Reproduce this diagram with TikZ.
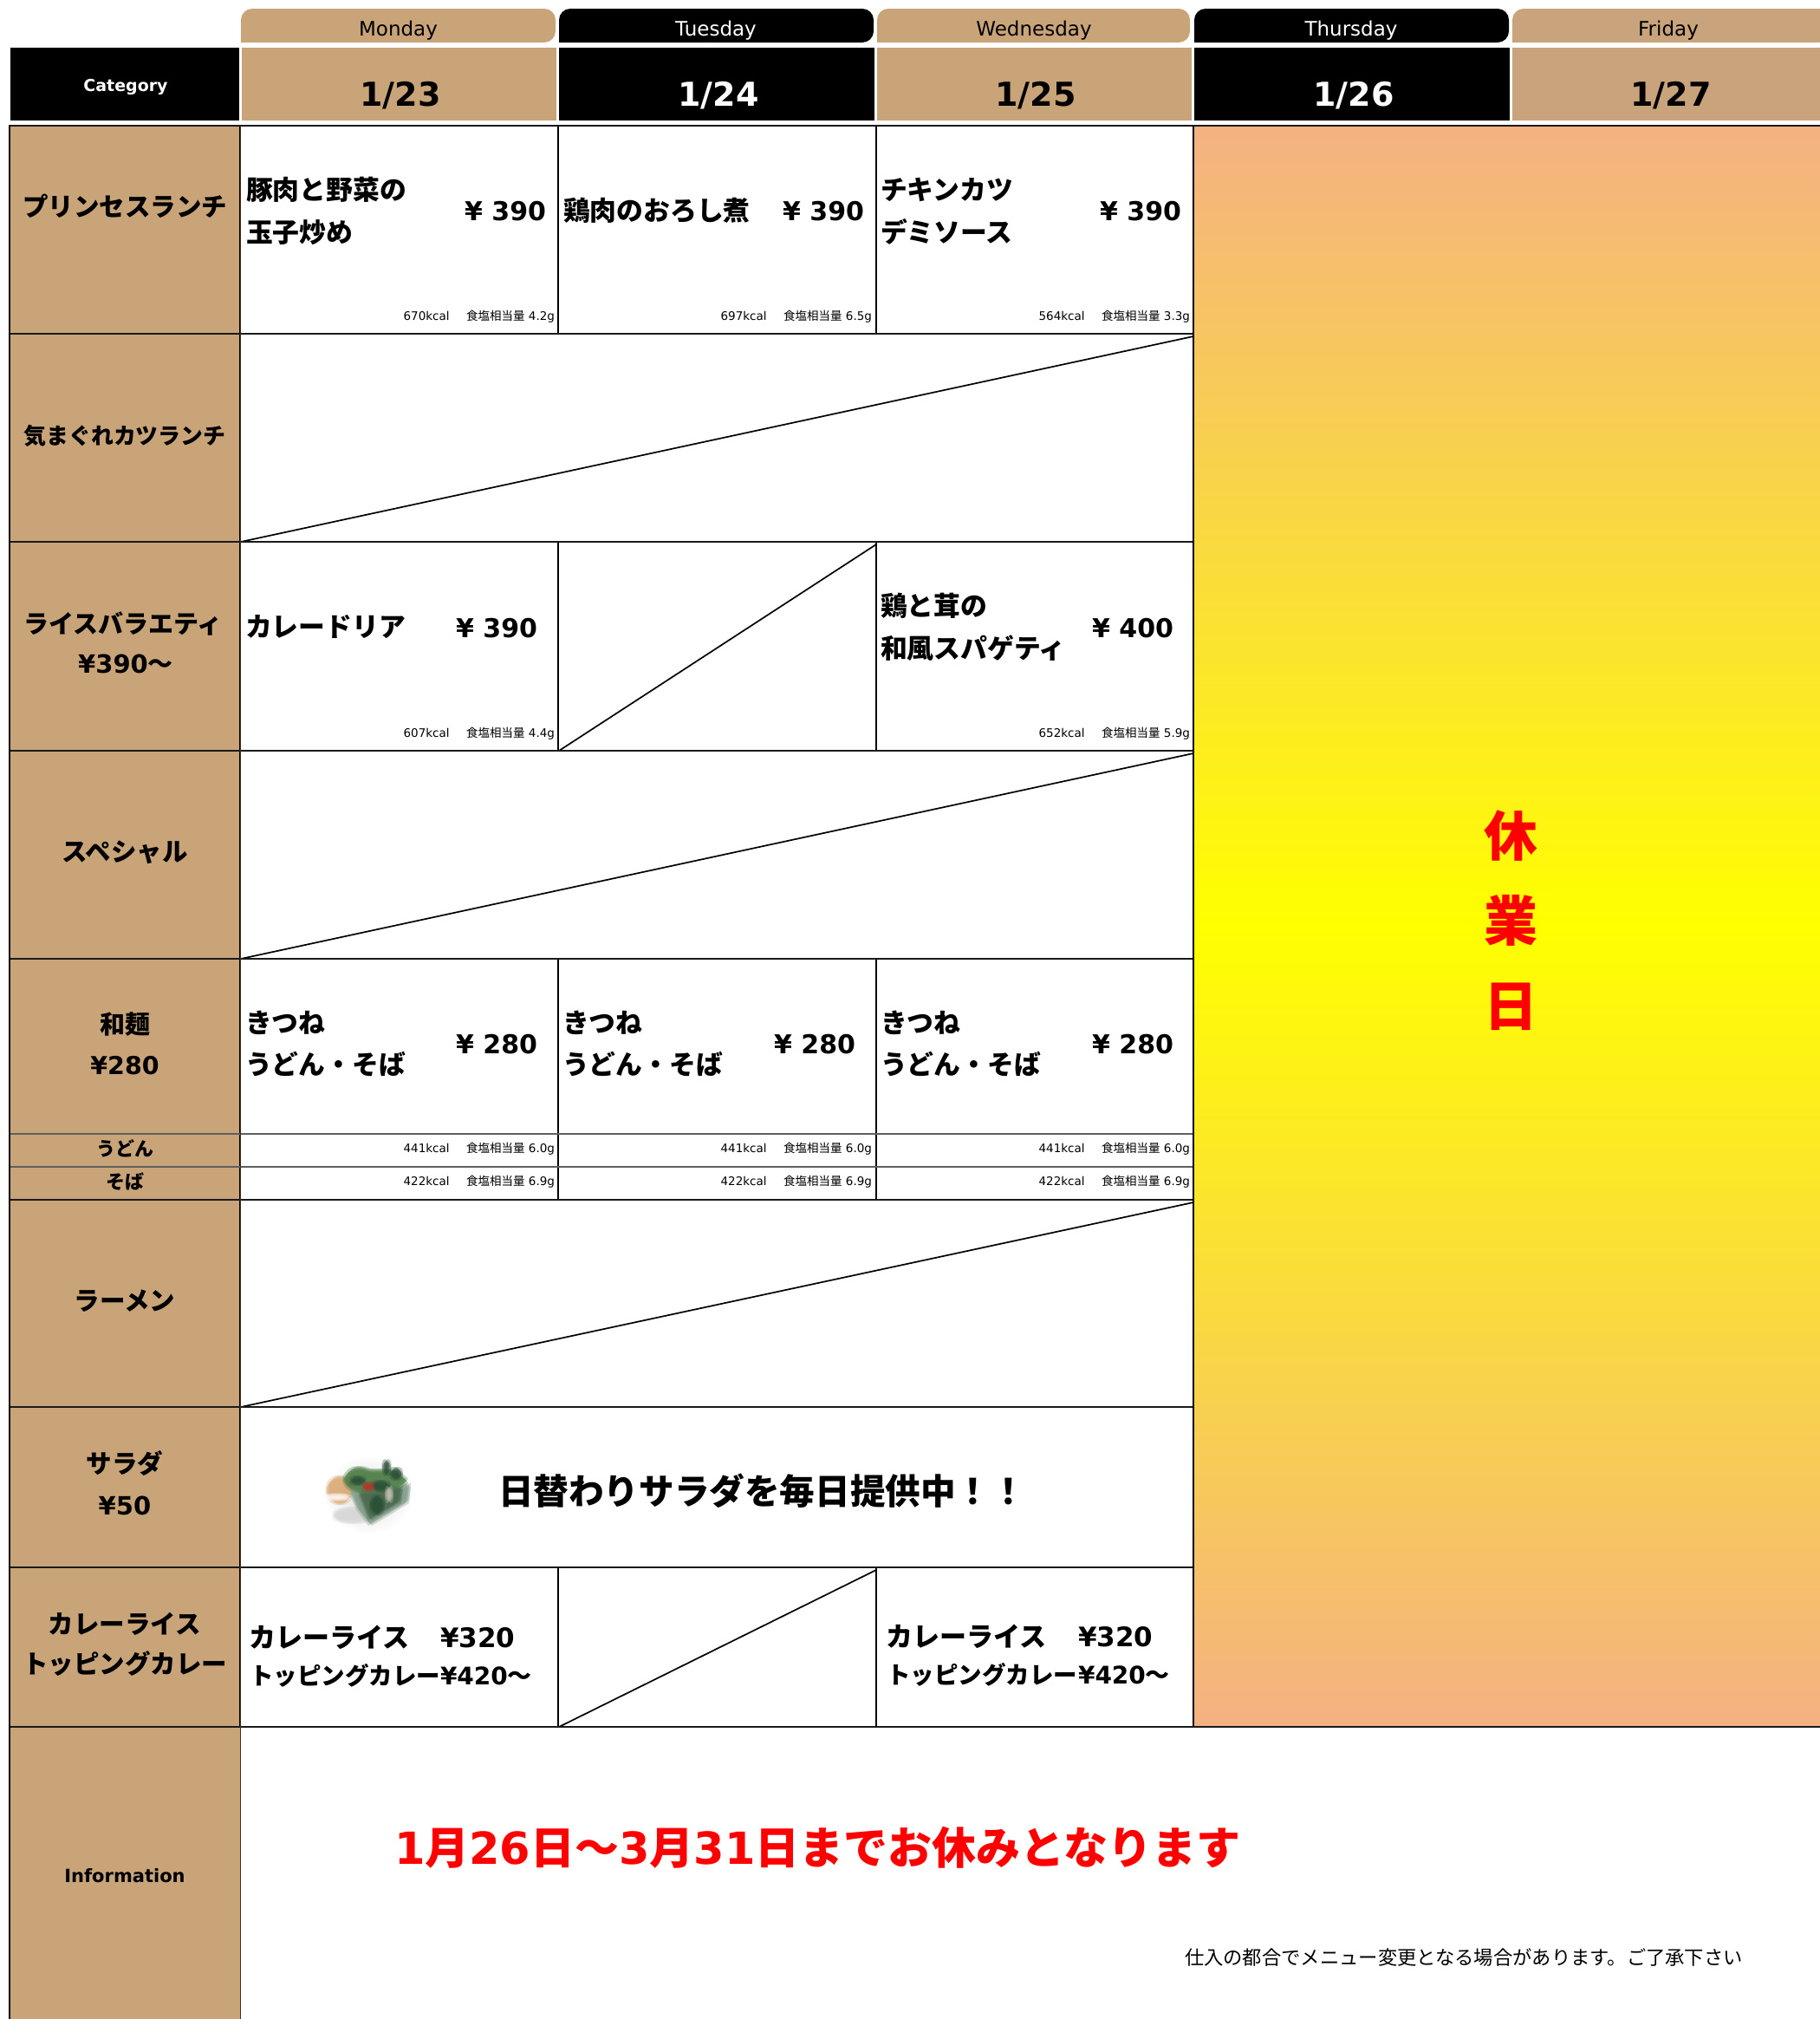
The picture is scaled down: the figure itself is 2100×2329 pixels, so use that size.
\documentclass[tikz,border=0pt]{standalone}
\usepackage{fontspec}
\setmainfont{DejaVu Sans}
\newfontfamily\jp{Noto Sans CJK JP}
\definecolor{tan}{HTML}{C9A479}
\definecolor{tanb}{HTML}{C8A37B}
\definecolor{gradend}{HTML}{F4B183}
\definecolor{rule}{HTML}{1A1A1A}
\definecolor{sbread}{HTML}{DCA873}
\definecolor{sbowl}{HTML}{7D9A86}
\definecolor{sdark}{HTML}{47694B}
\definecolor{sleaf}{HTML}{4A7A42}
\definecolor{sdeep}{HTML}{2A4F36}
\definecolor{stom}{HTML}{B8342A}
\definecolor{sgrey}{HTML}{C9C6B8}
\tikzset{
  cellbox/.style={draw=black,line width=1.2pt,fill=white,inner sep=0pt,outer sep=0pt,anchor=north west},
  labelbox/.style={fill=tan,draw=none,inner sep=0pt,outer sep=0pt,anchor=north west},
  headbox/.style={draw=none,inner sep=0pt,outer sep=0pt,anchor=north west},
  diag/.style={draw=black,line width=1.7pt},
  rowrule/.style={draw=rule,line width=2.6pt},
  subrule/.style={draw=rule!70!white,line width=2pt},
  lab/.style={inner sep=0pt,outer sep=0pt},
  daytab/.style={rounded corners=13pt}
}
% \bx[style]{name}{x1}{y1}{x2}{y2}
\newcommand{\bx}[6][]{\node[#1,minimum width={(#5-#3)*1pt},minimum height={(#6-#4)*1pt}] (#2) at (#3,#4) {};}
% \tx[opts]{name}{anchor}{x}{ycentre}{size}{text}
\newcommand{\tx}[7][]{\node[lab,#1,anchor=#3] (#2) at ({#4},{#5+0.8+0.36*#6}) {\fontsize{#6}{#6}\selectfont #7};}
\newcommand{\J}[1]{{\jp #1}}
\newcommand{\Kc}[2]{#1kcal\J{　}\hspace{6pt}\J{食塩相当量} #2}
% soft-edged shape
\newcommand{\soft}[2]{\foreach \dx/\dy in {-2/-2,2/-2,-2/2,2/2,0/0,0/0}{\fill[#1,opacity=.32,shift={(\dx,\dy)}] #2;}}
\begin{document}
\begin{tikzpicture}[x=1pt,y=-1pt]
\useasboundingbox (0,0) rectangle (2100,2329);
\fill[white] (0,0) rectangle (2100,2329);
% day tabs
\fill[tan,daytab] (278,49) -- (278,10) -- (641,10) -- (641,49) [sharp corners] -- cycle;
\fill[black,daytab] (645,49) -- (645,10) -- (1008,10) -- (1008,49) [sharp corners] -- cycle;
\fill[tan,daytab] (1012,49) -- (1012,10) -- (1373,10) -- (1373,49) [sharp corners] -- cycle;
\fill[black,daytab] (1378,49) -- (1378,10) -- (1741,10) -- (1741,49) [sharp corners] -- cycle;
\fill[tanb,daytab] (1745,49) -- (1745,10) -- (2112,10) -- (2112,49) [sharp corners] -- cycle;
\tx{dMon}{base}{459.5}{32}{23}{Monday}
\tx[text=white]{dTue}{base}{826}{32}{23}{Tuesday}
\tx{dWed}{base}{1193}{32}{23}{Wednesday}
\tx[text=white]{dThu}{base}{1559}{32}{23}{Thursday}
\tx{dFri}{base}{1925}{32}{23}{Friday}
% date header
\bx[headbox,fill=black]{hCat}{12}{55}{276}{139}
\bx[headbox,fill=tan]{hMon}{279}{55}{642}{139}
\bx[headbox,fill=black]{hTue}{645}{55}{1009}{139}
\bx[headbox,fill=tan]{hWed}{1012}{55}{1375}{139}
\bx[headbox,fill=black]{hThu}{1378}{55}{1742}{139}
\bx[headbox,fill=tanb]{hFri}{1745}{55}{2100}{139}
\tx[text=white,font=\bfseries]{tCat}{base}{145}{98}{19}{Category}
\tx[font=\bfseries]{t23}{base}{462}{108}{38}{1/23}
\tx[text=white,font=\bfseries]{t24}{base}{829}{108}{38}{1/24}
\tx[font=\bfseries]{t25}{base}{1195}{108}{38}{1/25}
\tx[text=white,font=\bfseries]{t26}{base}{1562}{108}{38}{1/26}
\tx[font=\bfseries]{t27}{base}{1928}{108}{38}{1/27}
% label column
\bx[labelbox]{l1}{11}{145}{277}{385}
\bx[labelbox]{l2}{11}{385}{277}{625}
\bx[labelbox]{l3}{11}{625}{277}{866}
\bx[labelbox]{l4}{11}{866}{277}{1106}
\bx[labelbox]{l5}{11}{1106}{277}{1308}
\bx[labelbox]{l5u}{11}{1308}{277}{1346}
\bx[labelbox]{l5s}{11}{1346}{277}{1384}
\bx[labelbox]{l6}{11}{1384}{277}{1623}
\bx[labelbox]{l7}{11}{1623}{277}{1808}
\bx[labelbox]{l8}{11}{1808}{277}{1992}
\bx[labelbox]{l9}{11}{1992}{277}{2329}
% body cells
\bx[cellbox]{c1m}{277}{145}{644}{385}
\bx[cellbox]{c1t}{644}{145}{1011}{385}
\bx[cellbox]{c1w}{1011}{145}{1377}{385}
\bx[cellbox]{c2}{277}{385}{1377}{625}
\bx[cellbox]{c3m}{277}{625}{644}{866}
\bx[cellbox]{c3t}{644}{625}{1011}{866}
\bx[cellbox]{c3w}{1011}{625}{1377}{866}
\bx[cellbox]{c4}{277}{866}{1377}{1106}
\bx[cellbox]{c5m}{277}{1106}{644}{1308}
\bx[cellbox]{c5t}{644}{1106}{1011}{1308}
\bx[cellbox]{c5w}{1011}{1106}{1377}{1308}
\bx[cellbox]{c5um}{277}{1308}{644}{1346}
\bx[cellbox]{c5ut}{644}{1308}{1011}{1346}
\bx[cellbox]{c5uw}{1011}{1308}{1377}{1346}
\bx[cellbox]{c5sm}{277}{1346}{644}{1384}
\bx[cellbox]{c5st}{644}{1346}{1011}{1384}
\bx[cellbox]{c5sw}{1011}{1346}{1377}{1384}
\bx[cellbox]{c6}{277}{1384}{1377}{1623}
\bx[cellbox]{c7}{277}{1623}{1377}{1808}
\bx[cellbox]{c8m}{277}{1808}{644}{1992}
\bx[cellbox]{c8t}{644}{1808}{1011}{1992}
\bx[cellbox]{c8w}{1011}{1808}{1377}{1992}
% closed column
\node[draw=none,inner sep=0pt,outer sep=0pt,anchor=north west,minimum width=723pt,minimum height=1847pt,
  top color=gradend,bottom color=gradend,middle color=yellow,shading angle=0] (closed) at (1377,145) {};
% diagonals
\draw[diag] ([xshift=1pt]c2.south west) -- ([yshift=-3pt]c2.north east);
\draw[diag] ([xshift=1pt]c3t.south west) -- ([yshift=-3pt]c3t.north east);
\draw[diag] ([xshift=1pt]c4.south west) -- ([yshift=-3pt]c4.north east);
\draw[diag] ([xshift=1pt]c6.south west) -- ([yshift=-3pt]c6.north east);
\draw[diag] ([xshift=1pt]c8t.south west) -- ([yshift=-3pt]c8t.north east);
% rules
\foreach \yy in {385,625,866,1106,1384,1623,1808} \draw[rowrule] (11,\yy) -- (1377,\yy);
\foreach \yy in {1308,1346} \draw[subrule] (11,\yy) -- (1377,\yy);
\draw[rowrule] (11,145) -- (2100,145);
\draw[rowrule] (11,1992) -- (2100,1992);
\draw[draw=black,line width=2pt] (11,144) -- (11,2329);
\draw[draw=black!70!tan,line width=1pt] (277,145) -- (277,2329);
\draw[draw=black,line width=1.8pt] (1377,145) -- (1377,1992);
% labels
\tx[font=\jp\bfseries]{a1}{base}{144}{238}{29.5}{プリンセスランチ}
\tx[font=\jp\bfseries]{a2}{base}{144}{502}{25.9}{気まぐれカツランチ}
\tx[font=\jp\bfseries]{a3}{base}{142}{719}{29}{ライスバラエティ}
\tx[font=\bfseries]{a3b}{base}{145}{765}{29}{¥390\J{〜}}
\tx[font=\jp\bfseries]{a4}{base}{144}{982}{29.5}{スペシャル}
\tx[font=\jp\bfseries]{a5}{base}{144}{1181}{29}{和麺}
\tx[font=\bfseries]{a5b}{base}{144}{1228}{28.5}{¥280}
\tx[font=\jp\bfseries]{a5u}{base}{144}{1325}{22}{うどん}
\tx[font=\jp\bfseries]{a5s}{base}{144}{1363}{22}{そば}
\tx[font=\jp\bfseries]{a6}{base}{144}{1500}{29.5}{ラーメン}
\tx[font=\jp\bfseries]{a7}{base}{144}{1688}{29.5}{サラダ}
\tx[font=\bfseries]{a7b}{base}{144}{1736}{29}{¥50}
\tx[font=\jp\bfseries]{a8}{base}{144}{1873}{29.5}{カレーライス}
\tx[font=\jp\bfseries]{a8b}{base}{144}{1919}{29.5}{トッピングカレー}
\tx[font=\bfseries]{a9}{base}{144}{2163}{21}{Information}
% row 1
\tx[font=\jp\bfseries]{m11}{base west}{284}{219}{30.8}{豚肉と野菜の}
\tx[font=\jp\bfseries]{m12}{base west}{284}{268}{30.8}{玉子炒め}
\tx[font=\bfseries]{p1m}{base east}{630}{243}{30}{¥ 390}
\tx{k1m}{base east}{640}{364}{13.5}{\Kc{670}{4.2g}}
\tx[font=\jp\bfseries]{m13}{base west}{650}{243}{30.8}{鶏肉のおろし煮}
\tx[font=\bfseries]{p1t}{base east}{997}{243}{30}{¥ 390}
\tx{k1t}{base east}{1006}{364}{13.5}{\Kc{697}{6.5g}}
\tx[font=\jp\bfseries]{m14}{base west}{1016}{219}{30.8}{チキンカツ}
\tx[font=\jp\bfseries]{m15}{base west}{1016}{268}{30.8}{デミソース}
\tx[font=\bfseries]{p1w}{base east}{1363}{243}{30}{¥ 390}
\tx{k1w}{base east}{1373}{364}{13.5}{\Kc{564}{3.3g}}
% row 3
\tx[font=\jp\bfseries]{m31}{base west}{283}{723}{30.8}{カレードリア}
\tx[font=\bfseries]{p3m}{base east}{620}{724}{30}{¥ 390}
\tx{k3m}{base east}{640}{845}{13.5}{\Kc{607}{4.4g}}
\tx[font=\jp\bfseries]{m32}{base west}{1016}{699}{30.8}{鶏と茸の}
\tx[font=\jp\bfseries]{m33}{base west}{1016}{748}{30.8}{和風スパゲティ}
\tx[font=\bfseries]{p3w}{base east}{1354}{724}{30}{¥ 400}
\tx{k3w}{base east}{1373}{845}{13.5}{\Kc{652}{5.9g}}
% row 5
\foreach \cx/\nm/\pr/\kr in {283/a/620/640,649/b/987/1006,1016/c/1354/1373}{
  \tx[font=\jp\bfseries]{w1\nm}{base west}{\cx}{1180}{30.8}{きつね}
  \tx[font=\jp\bfseries]{w2\nm}{base west}{\cx}{1228}{30.8}{うどん・そば}
  \tx[font=\bfseries]{wp\nm}{base east}{\pr}{1204}{30}{¥ 280}
  \tx{ku\nm}{base east}{\kr}{1324}{13.5}{\Kc{441}{6.0g}}
  \tx{ks\nm}{base east}{\kr}{1362}{13.5}{\Kc{422}{6.9g}}
}
% salad picture
\begin{scope}[shift={(425,1722)}]
  \shade[inner color=black!14,outer color=white] (0,2) ellipse (52 and 46);
  \soft{white}{(-54,-46) rectangle (-26,-24)}
  \soft{black!16}{(-18,26) ellipse (22 and 8)}
  \soft{sbread}{(-33,-3) ellipse (14 and 15)}
  \soft{white}{(-36,5) ellipse (14 and 2.5)}
  \soft{sbowl}{(-20,-2) -- (47,-9) -- (45,10) -- (2,36) -- (-12,18) -- cycle}
  \soft{sdark}{(-10,0) -- (38,-6) -- (36,10) -- (2,30) -- cycle}
  \soft{sleaf}{(-28,-16) .. controls (-20,-32) and (-8,-30) .. (0,-26)
     .. controls (14,-24) and (30,-30) .. (44,-14) .. controls (36,-2) and (10,-6) .. (-8,-2)
     .. controls (-18,-2) and (-26,-6) .. (-28,-16) -- cycle}
  \soft{sdeep}{(21,-29) ellipse (3.5 and 8)}
  \soft{sdeep}{(32,-22) ellipse (6 and 6)}
  \soft{sdeep}{(14,-8) ellipse (10 and 5)}
  \soft{sdeep}{(-12,-14) ellipse (8 and 4)}
  \soft{sdeep}{(10,14) ellipse (7 and 10)}
  \soft{stom}{(0,-7) ellipse (6 and 4)}
  \soft{sgrey}{(24,2) ellipse (3 and 8)}
\end{scope}
\tx[font=\jp\bfseries]{s1}{base west}{575}{1720}{40.6}{日替わりサラダを毎日提供中！！}
% row 8
\tx[font=\jp\bfseries]{cm1}{base west}{287}{1889}{31}{カレーライス}
\tx[font=\bfseries]{cm1p}{base west}{508}{1889}{31}{¥320}
\tx[font=\jp\bfseries]{cm2}{base west}{288}{1933}{27.5}{トッピングカレー}
\tx[font=\bfseries]{cm2p}{base west}{508}{1933}{28}{¥420\J{〜}}
\tx[font=\jp\bfseries]{cw1}{base west}{1022}{1888}{31}{カレーライス}
\tx[font=\bfseries]{cw1p}{base west}{1244}{1888}{31}{¥320}
\tx[font=\jp\bfseries]{cw2}{base west}{1023}{1932}{27.5}{トッピングカレー}
\tx[font=\bfseries]{cw2p}{base west}{1244}{1932}{28}{¥420\J{〜}}
% closed
\tx[font=\jp\bfseries,text=red]{q1}{base}{1743}{964}{62}{休}
\tx[font=\jp\bfseries,text=red]{q2}{base}{1743}{1062}{62}{業}
\tx[font=\jp\bfseries,text=red]{q3}{base}{1743}{1160}{62}{日}
% information
\tx[font=\bfseries,text=red]{i1}{base west}{455}{2131}{51}{1\J{月}26\J{日〜}3\J{月}31\J{日までお休みとなります}}
\tx[font=\jp]{i2}{base west}{1367}{2258}{22.3}{仕入の都合でメニュー変更となる場合があります。ご了承下さい}
\end{tikzpicture}
\end{document}
